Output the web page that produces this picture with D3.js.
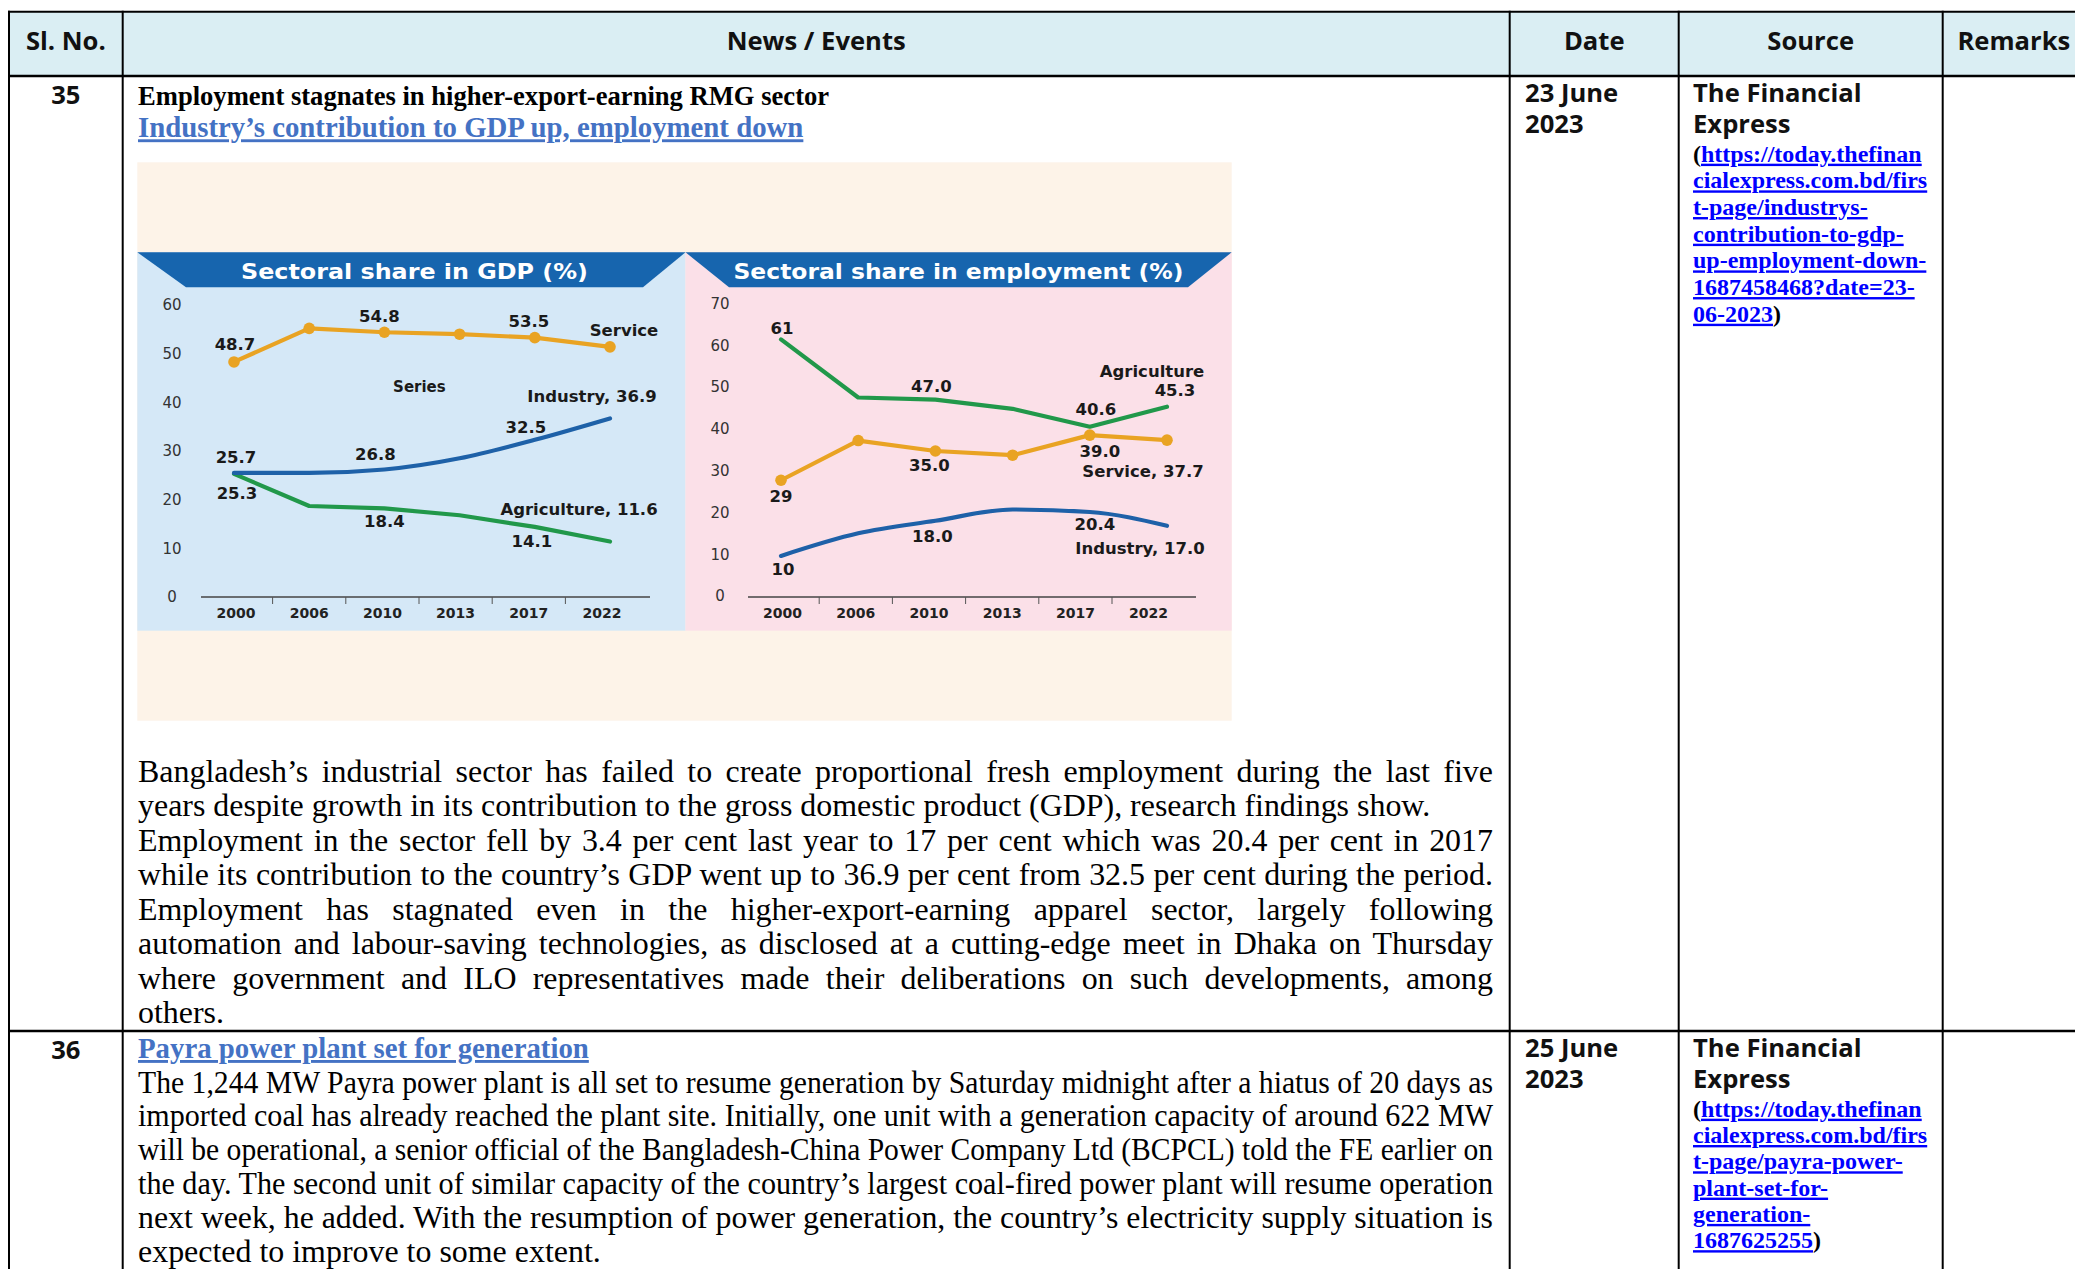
<!DOCTYPE html>
<html>
<head>
<meta charset="utf-8">
<script src="https://cdn.jsdelivr.net/npm/d3@7"></script>
<style>
  body { margin: 0; background: #fff; }
  svg { display: block; }
</style>
</head>
<body>
<svg id="page" width="2075" height="1269"></svg>
<script>
// ---- chart data ----
const years = ["2000", "2006", "2010", "2013", "2017", "2022"];

// Sectoral share in GDP (%)
const gdpService = [48.3, 55.2, 54.4, 54.0, 53.3, 51.4];
const gdpIndustry = [25.5, 25.5, 26.2, 28.5, 32.3, 36.7];
const gdpAgriculture = [25.3, 18.7, 18.2, 16.8, 14.4, 11.4];
const gdpTicks = [0, 10, 20, 30, 40, 50, 60];
const gdpNotes = ["48.7", "54.8", "53.5", "Service", "Series", "Industry, 36.9", "32.5",
    "26.8", "25.7", "25.3", "18.4", "Agriculture, 11.6", "14.1"];

// Sectoral share in employment (%)
const empAgriculture = [61.4, 47.5, 47.0, 44.8, 40.5, 45.3];
const empService = [27.7, 37.2, 34.7, 33.7, 38.5, 37.3];
const empIndustry = [9.6, 15.0, 18.0, 20.7, 20.1, 16.8];
const empTicks = [0, 10, 20, 30, 40, 50, 60, 70];
const empNotes = ["61", "47.0", "Agriculture", "45.3", "40.6", "39.0", "Service, 37.7",
    "35.0", "29", "20.4", "18.0", "Industry, 17.0", "10"];

// ---- table text ----
const headers = ["Sl. No.", "News / Events", "Date", "Source", "Remarks"];
const row35Title = "Employment stagnates in higher-export-earning RMG sector";
const row35Link = "Industry\u2019s contribution to GDP up, employment down";
const row35Body = [
    "Bangladesh\u2019s industrial sector has failed to create proportional fresh employment during the last five",
    "years despite growth in its contribution to the gross domestic product (GDP), research findings show.",
    "Employment in the sector fell by 3.4 per cent last year to 17 per cent which was 20.4 per cent in 2017",
    "while its contribution to the country\u2019s GDP went up to 36.9 per cent from 32.5 per cent during the period.",
    "Employment has stagnated even in the higher-export-earning apparel sector, largely following",
    "automation and labour-saving technologies, as disclosed at a cutting-edge meet in Dhaka on Thursday",
    "where government and ILO representatives made their deliberations on such developments, among",
    "others."
];
const row35Ends = [1, 7];   // lines that end a paragraph (not justified)
const row35Date = ["23 June", "2023"];
const row35Url = ["https://today.thefinan", "cialexpress.com.bd/firs", "t-page/industrys-",
    "contribution-to-gdp-", "up-employment-down-", "1687458468?date=23-", "06-2023"];

const row36Link = "Payra power plant set for generation";
const row36Body = [
    "The 1,244 MW Payra power plant is all set to resume generation by Saturday midnight after a hiatus of 20 days as",
    "imported coal has already reached the plant site. Initially, one unit with a generation capacity of around 622 MW",
    "will be operational, a senior official of the Bangladesh-China Power Company Ltd (BCPCL) told the FE earlier on",
    "the day. The second unit of similar capacity of the country\u2019s largest coal-fired power plant will resume operation",
    "next week, he added. With the resumption of power generation, the country\u2019s electricity supply situation is",
    "expected to improve to some extent."
];
const row36Ends = [5];
const row36Date = ["25 June", "2023"];
const row36Url = ["https://today.thefinan", "cialexpress.com.bd/firs", "t-page/payra-power-",
    "plant-set-for-", "generation-", "1687625255"];
const sourceName = ["The Financial", "Express"];

// ---- page ----
const svg = d3.select("#page");
const W = 2075, H = 1269;
const colX = [9, 122.7, 1509.7, 1678.7, 1942.7, 2085];
const sans = "'Open Sans', Carlito, Calibri, sans-serif";
const serif = "'Liberation Serif', 'Times New Roman', serif";
const chartFont = "'DejaVu Sans', Verdana, sans-serif";

svg.append("rect").attr("width", W).attr("height", H).attr("fill", "#fff");

// header row
svg.append("rect")
    .attr("x", colX[0]).attr("y", 12)
    .attr("width", W - colX[0]).attr("height", 64)
    .attr("fill", "#DAEEF3");

svg.selectAll(".hdr")
    .data(headers)
    .join("text")
    .attr("class", "hdr")
    .attr("x", (d, i) => (colX[i] + colX[i + 1]) / 2)
    .attr("y", 50)
    .attr("text-anchor", "middle")
    .style("font-family", sans)
    .style("font-weight", 700)
    .style("font-size", "25.6px")
    .attr("fill", "#111")
    .text(d => d);

// ---- chart image (beige card with two panels) ----
const card = { x: 137.3, y: 162.3, w: 1094.4, h: 558.4 };
svg.append("rect")
    .attr("x", card.x).attr("y", card.y)
    .attr("width", card.w).attr("height", card.h)
    .attr("fill", "#FDF3E8");

const panelTop = 252.3, panelBottom = 630.7, mid = 685.5;
svg.append("rect")
    .attr("x", card.x).attr("y", panelTop)
    .attr("width", mid - card.x).attr("height", panelBottom - panelTop)
    .attr("fill", "#D5E8F7");
svg.append("rect")
    .attr("x", mid).attr("y", panelTop)
    .attr("width", card.x + card.w - mid).attr("height", panelBottom - panelTop)
    .attr("fill", "#FBE0E8");

// title banners
const bannerH = 35;
const banners = [
    { text: "Sectoral share in GDP (%)", pts: [[card.x, panelTop], [mid, panelTop], [643, panelTop + bannerH], [186, panelTop + bannerH]], tl: 347 },
    { text: "Sectoral share in employment (%)", pts: [[mid, panelTop], [card.x + card.w, panelTop], [1188, panelTop + bannerH], [729, panelTop + bannerH]], tl: 450 }
];
banners.forEach(b => {
    svg.append("polygon")
        .attr("points", b.pts.map(p => p.join(",")).join(" "))
        .attr("fill", "#1765AE");
    svg.append("text")
        .attr("x", (b.pts[2][0] + b.pts[3][0]) / 2)
        .attr("y", 278.5)
        .attr("text-anchor", "middle")
        .attr("textLength", b.tl)
        .attr("lengthAdjust", "spacingAndGlyphs")
        .style("font-family", chartFont)
        .style("font-weight", 700)
        .style("font-size", "21px")
        .attr("fill", "#fff")
        .text(b.text);
});

const colors = { Service: "#E9A323", Industry: "#1E61A8", Agriculture: "#21984A" };

function drawPanel(cfg) {
    const g = svg.append("g");

    const xBand = d3.scaleBand().domain(years).range(cfg.bandRange);
    const xPt = d3.scalePoint().domain(years).range(cfg.ptRange);
    const y = d3.scaleLinear().domain([0, d3.max(cfg.ticks)]).range(cfg.yRange);

    // y axis labels
    const yAxis = g.append("g")
        .attr("transform", `translate(${cfg.yLabelX},0)`)
        .call(d3.axisLeft(y).tickValues(cfg.ticks).tickSize(0).tickPadding(0));
    yAxis.select(".domain").remove();
    yAxis.selectAll("text")
        .attr("x", 0)
        .attr("text-anchor", "middle")
        .style("font-family", chartFont)
        .style("font-size", "15px")
        .attr("fill", "#333");

    // x axis
    const xAxis = g.append("g")
        .attr("transform", `translate(0,${cfg.axisY})`)
        .call(d3.axisBottom(xBand).tickSize(0));
    xAxis.select(".domain").remove();
    xAxis.selectAll("text")
        .attr("y", 21).attr("dy", 0)
        .style("font-family", chartFont)
        .style("font-weight", 700)
        .style("font-size", "14px")
        .attr("fill", "#222");
    xAxis.append("line")
        .attr("x1", cfg.axisX[0]).attr("x2", cfg.axisX[1])
        .attr("stroke", "#444").attr("stroke-width", 1.6);
    xAxis.selectAll(".sep")
        .data(years.slice(1))
        .join("line")
        .attr("class", "sep")
        .attr("x1", d => xBand(d)).attr("x2", d => xBand(d))
        .attr("y1", 0).attr("y2", 7)
        .attr("stroke", "#555").attr("stroke-width", 1);

    // lines
    const pts = {};
    cfg.series.forEach(s => {
        pts[s.name] = s.values.map((v, i) => [xPt(years[i]), y(v)]);
    });
    cfg.order.forEach(name => {
        const s = cfg.series.find(d => d.name === name);
        g.append("path")
            .datum(pts[name])
            .attr("fill", "none")
            .attr("stroke", colors[name])
            .attr("stroke-width", 4.2)
            .attr("stroke-linejoin", "round")
            .attr("stroke-linecap", "round")
            .attr("d", d3.line().curve(s.curve)(pts[name]));
        if (s.markers) {
            g.selectAll(null)
                .data(pts[name])
                .join("circle")
                .attr("cx", d => d[0]).attr("cy", d => d[1])
                .attr("r", 5.8)
                .attr("fill", colors[name]);
        }
    });

    // value / series labels, placed relative to their point
    cfg.notes.forEach((t, k) => {
        const [name, i, dx, dy] = cfg.noteAt[k];
        const p = pts[name][i];
        g.append("text")
            .attr("x", p[0] + dx)
            .attr("y", p[1] + dy)
            .attr("text-anchor", "middle")
            .style("font-family", chartFont)
            .style("font-weight", 700)
            .style("font-size", t === "Series" ? "15px" : "16.5px")
            .attr("fill", "#1a1a1a")
            .text(t);
    });
}

drawPanel({
    bandRange: [199.4, 638.6], ptRange: [234, 610], yRange: [597, 305],
    ticks: gdpTicks, yLabelX: 172, axisY: 597, axisX: [201, 650],
    series: [
        { name: "Service", values: gdpService, curve: d3.curveLinear, markers: true },
        { name: "Industry", values: gdpIndustry, curve: d3.curveMonotoneX },
        { name: "Agriculture", values: gdpAgriculture, curve: d3.curveLinear }
    ],
    order: ["Agriculture", "Industry", "Service"],
    notes: gdpNotes,
    noteAt: [
        ["Service", 0, 1, -12], ["Service", 2, -5, -10], ["Service", 4, -6, -11],
        ["Service", 5, 14, -11], ["Industry", 2, 35, -77], ["Industry", 5, -18, -16],
        ["Industry", 4, -9, -7], ["Industry", 2, -9, -9.5], ["Industry", 0, 2, -10],
        ["Agriculture", 0, 3, 25], ["Agriculture", 2, 0, 18.6], ["Agriculture", 5, -31, -26.5],
        ["Agriculture", 4, -3, 20]
    ]
});

drawPanel({
    bandRange: [746, 1185.2], ptRange: [781, 1167], yRange: [596, 303.5],
    ticks: empTicks, yLabelX: 720, axisY: 597, axisX: [748, 1196],
    series: [
        { name: "Agriculture", values: empAgriculture, curve: d3.curveLinear },
        { name: "Service", values: empService, curve: d3.curveLinear, markers: true },
        { name: "Industry", values: empIndustry, curve: d3.curveMonotoneX }
    ],
    order: ["Industry", "Service", "Agriculture"],
    notes: empNotes,
    noteAt: [
        ["Agriculture", 0, 1, -5.4], ["Agriculture", 2, -4, -7.6], ["Agriculture", 5, -15, -29.7],
        ["Agriculture", 5, 8, -10.7], ["Agriculture", 4, 6, -11.8], ["Service", 4, 10, 22],
        ["Service", 5, -24, 37], ["Service", 2, -6, 20], ["Service", 0, 0, 21.7],
        ["Industry", 4, 5, 18], ["Industry", 2, -3, 21], ["Industry", 5, -27, 28.2],
        ["Industry", 0, 2, 19]
    ]
});

// ---- text cells ----
const textL = 138, textR = 1493;

function headingLine(str, yPos, opts) {
    svg.append("text")
        .attr("x", textL).attr("y", yPos)
        .style("font-family", serif)
        .style("font-weight", 700)
        .style("font-size", opts.size + "px")
        .style("text-decoration", opts.link ? "underline" : null)
        .attr("fill", opts.color)
        .text(str);
}

// body font size chosen so that the unjustified line matches the reference width
const probe = svg.append("text").style("font-family", serif).style("font-size", "30px").text(row35Body[1]);
const bodySize = 30 * 1293 / probe.node().getComputedTextLength();
probe.remove();

function bodyLines(lines, ends, y0, pitch) {
    lines.forEach((line, i) => {
        const t = svg.append("text")
            .attr("x", textL).attr("y", y0 + i * pitch)
            .style("font-family", serif)
            .style("font-size", bodySize + "px")
            .attr("fill", "#000")
            .text(line);
        const w = t.node().getComputedTextLength();
        const target = textR - textL;
        if (w > target) {
            // too long for the column: squeeze it like the source does
            t.attr("textLength", target).attr("lengthAdjust", "spacingAndGlyphs");
        } else if (!ends.includes(i)) {
            const gaps = line.split(" ").length - 1;
            t.style("word-spacing", ((target - w) / gaps) + "px");
        }
    });
}

function sideCells(num, date, url, yTop, urlTop, urlPitch) {
    svg.append("text")
        .attr("x", (colX[0] + colX[1]) / 2).attr("y", yTop + 2)
        .attr("text-anchor", "middle")
        .style("font-family", sans).style("font-weight", 700).style("font-size", "25.6px")
        .attr("fill", "#111")
        .text(num);
    date.forEach((d, i) => {
        svg.append("text")
            .attr("x", 1525).attr("y", yTop + i * 31.6)
            .style("font-family", sans).style("font-weight", 700).style("font-size", "25.6px")
            .attr("fill", "#111")
            .text(d);
    });
    sourceName.forEach((d, i) => {
        svg.append("text")
            .attr("x", 1693).attr("y", yTop + i * 31.6)
            .style("font-family", sans).style("font-weight", 700).style("font-size", "25.6px")
            .attr("fill", "#111")
            .text(d);
    });
    url.forEach((u, i) => {
        const t = svg.append("text")
            .attr("x", 1693).attr("y", urlTop + i * urlPitch)
            .style("font-family", serif).style("font-weight", 700).style("font-size", "24px");
        if (i === 0) t.append("tspan").attr("fill", "#000").text("(");
        t.append("tspan").attr("fill", "#0000FF").style("text-decoration", "underline").text(u);
        if (i === url.length - 1) t.append("tspan").attr("fill", "#000").text(")");
    });
}

// row 35
headingLine(row35Title, 105, { size: 26.6, color: "#000" });
headingLine(row35Link, 137.3, { size: 28.8, color: "#4472C4", link: true });
bodyLines(row35Body, row35Ends, 781.7, 34.5);
sideCells("35", row35Date, row35Url, 101.7, 161.7, 26.67);

// row 36
headingLine(row36Link, 1058, { size: 28.8, color: "#4472C4", link: true });
bodyLines(row36Body, row36Ends, 1092.5, 33.9);
sideCells("36", row36Date, row36Url, 1056.7, 1116.7, 26.3);

// ---- table grid ----
const grid = svg.append("g").attr("stroke", "#000");
colX.slice(0, 5).forEach(x => {
    grid.append("line").attr("x1", x).attr("x2", x).attr("y1", 10.7).attr("y2", H).attr("stroke-width", 2);
});
[[11.7, 2], [76, 2.4], [1031, 2.6]].forEach(([yy, sw]) => {
    grid.append("line").attr("x1", colX[0] - 1).attr("x2", W).attr("y1", yy).attr("y2", yy).attr("stroke-width", sw);
});
</script>
</body>
</html>
